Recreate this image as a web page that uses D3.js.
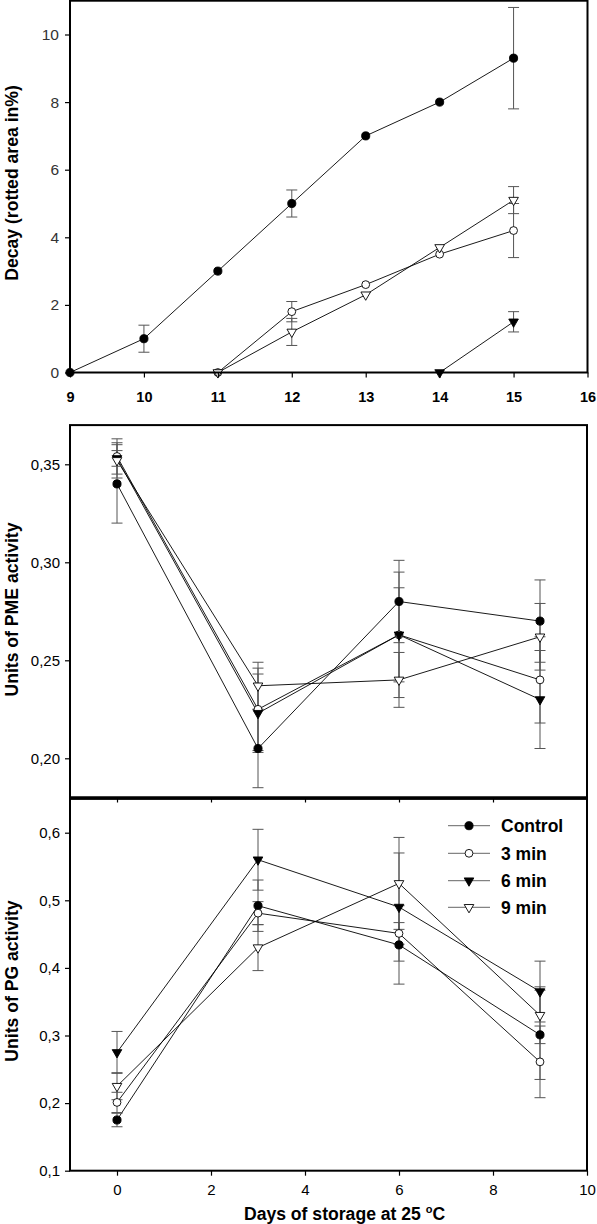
<!DOCTYPE html>
<html><head><meta charset="utf-8">
<script src="https://cdn.jsdelivr.net/npm/d3@7"></script>
<style>body{margin:0;background:#fff}svg{display:block}text{font-family:"Liberation Sans",Arial,sans-serif}</style>
</head><body>
<svg id="c" width="597" height="1224"></svg>
<script>
// ---------- DATA ----------
const seriesNames = ["Control","3 min","6 min","9 min"];
// Panel A: decay (days 9-16)
const decayDays = [9,10,11,12,13,14,15];
const decayControl = [0,1.0,3.0,5.0,7.0,8.0,9.3];
const decay3 = [null,null,0,1.8,2.6,3.5,4.2];
const decay6 = [null,null,null,null,null,0,1.5];
const decay9 = [null,null,0,1.2,2.3,3.7,5.1];
const decayErrControl = [null,0.4,null,0.4,null,null,1.5];
const decayErr3 = [null,null,null,0.3,null,null,0.8];
const decayErr6 = [null,null,null,null,null,null,0.3];
const decayErr9 = [null,null,null,0.4,null,null,0.4];
const decayXTicks = [9,10,11,12,13,14,15,16];
const decayYTicks = [0,2,4,6,8,10];
// Panel B: PME, Panel C: PG (days 0,3,6,9)
const storageDays = [0,3,6,9];
const pmeControl = [0.340,0.205,0.280,0.270];
const pme3 = [0.354,0.225,0.263,0.240];
const pme6 = [0.353,0.223,0.263,0.230];
const pme9 = [0.352,0.237,0.240,0.262];
const pmeErrControl = [0.020,0.020,0.021,0.021];
const pmeErr3 = [0.009,0.021,0.032,0.022];
const pmeErr6 = [0.004,0.020,0.024,0.025];
const pmeErr9 = [0.009,0.012,0.014,0.017];
const pmeYTicks = [0.20,0.25,0.30,0.35];
const pgControl = [0.175,0.492,0.434,0.301];
const pg3 = [0.201,0.481,0.451,0.261];
const pg6 = [0.275,0.560,0.490,0.365];
const pg9 = [0.225,0.430,0.525,0.330];
const pgErrControl = [0.010,0.038,0.058,0.066];
const pgErr3 = [0.015,0.017,0.016,0.053];
const pgErr6 = [0.031,0.045,0.080,0.045];
const pgErr9 = [0.020,0.034,0.068,0.042];
const pgYTicks = [0.1,0.2,0.3,0.4,0.5,0.6];
const storageXTicks = [0,2,4,6,8,10];

// ---------- DRAW ----------
const svg = d3.select("#c");
const fmtComma = d => d3.format(".2f")(d).replace(".",",");
const fmtComma1 = d => d3.format(".1f")(d).replace(".",",");
const symFilled = [true,false,true,false];
const symType = [d3.symbolCircle,d3.symbolCircle,d3.symbolTriangle,d3.symbolTriangle];
const symSize = [52,48,40,40];

function marker(g, i, x, y){
  const p = g.append("path")
    .attr("d", d3.symbol().type(symType[i]).size(symSize[i])())
    .attr("fill", symFilled[i] ? "#000" : "#fff")
    .attr("stroke","#000").attr("stroke-width",0.9);
  p.attr("transform", `translate(${x},${y})` + (i>=2 ? " rotate(180)" : ""));
}

function panel(opt){
  const {x, y, days, series, errs} = opt;
  const g = svg.append("g");
  // lines
  series.forEach((vals)=>{
    const pts = days.map((d,k)=>[d,vals[k]]).filter(p=>p[1]!=null);
    g.append("path").attr("d", d3.line().x(p=>x(p[0])).y(p=>y(p[1]))(pts))
      .attr("fill","none").attr("stroke","#000").attr("stroke-width",0.9);
  });
  // error bars
  series.forEach((vals,i)=>{
    days.forEach((d,k)=>{
      const v = vals[k], e = errs[i][k];
      if(v==null || e==null) return;
      const cx = x(d), y1 = y(v+e), y2 = y(v-e);
      const eg = g.append("g").attr("stroke","#555").attr("stroke-width",1);
      eg.append("line").attr("x1",cx).attr("x2",cx).attr("y1",y1).attr("y2",y2);
      eg.append("line").attr("x1",cx-5.5).attr("x2",cx+5.5).attr("y1",y1).attr("y2",y1);
      eg.append("line").attr("x1",cx-5.5).attr("x2",cx+5.5).attr("y1",y2).attr("y2",y2);
    });
  });
  // markers
  series.forEach((vals,i)=>{
    days.forEach((d,k)=>{ if(vals[k]!=null) marker(g,i,x(d),y(vals[k])); });
  });
}

function box(x,y){
  const [x0,x1] = x.range(); const [y0,y1] = y.range();
  svg.append("rect").attr("x",x0).attr("y",y1).attr("width",x1-x0).attr("height",y0-y1)
    .attr("fill","none").attr("stroke","#000").attr("stroke-width",2);
}

function styleAxis(g){
  g.select(".domain").remove();
  g.selectAll(".tick line").attr("stroke","#000").attr("stroke-width",1.2);
}

// ----- Panel A -----
const xA = d3.scaleLinear().domain([9,16]).range([70,587.5]);
const yA = d3.scaleLinear().domain([0,11]).range([372.5,0.7]);
panel({x:xA,y:yA,days:decayDays,series:[decayControl,decay3,decay6,decay9],
  errs:[decayErrControl,decayErr3,decayErr6,decayErr9]});
svg.append("g").attr("transform","translate(70,0)")
  .call(d3.axisLeft(yA).tickValues(decayYTicks).tickSize(5).tickPadding(6).tickFormat(d3.format("d")))
  .call(styleAxis)
  .call(g=>g.selectAll("text").attr("font-size",15.5).attr("fill","#333").attr("font-family","Liberation Sans, Arial"));
svg.append("g").attr("transform","translate(0,372.5)")
  .call(d3.axisBottom(xA).tickValues(decayXTicks).tickSize(5).tickPadding(14).tickFormat(d3.format("d")))
  .call(styleAxis)
  .call(g=>g.selectAll("text").attr("font-size",14.5).attr("font-weight","bold").attr("fill","#000").attr("font-family","Liberation Sans, Arial"));
box(xA,yA);

// ----- Panel B -----
const xB = d3.scaleLinear().domain([-1,10]).range([70,587]);
const yB = d3.scaleLinear().domain([0.18,0.37]).range([797.5,425.1]);
panel({x:xB,y:yB,days:storageDays,series:[pmeControl,pme3,pme6,pme9],
  errs:[pmeErrControl,pmeErr3,pmeErr6,pmeErr9]});
svg.append("g").attr("transform","translate(70,0)")
  .call(d3.axisLeft(yB).tickValues(pmeYTicks).tickSize(5).tickPadding(5).tickFormat(fmtComma))
  .call(styleAxis)
  .call(g=>g.selectAll("text").attr("font-size",15).attr("fill","#000").attr("font-family","Liberation Sans, Arial"));
svg.append("g").attr("transform","translate(0,797.5)")
  .call(d3.axisBottom(xB).tickValues([0,2,4,6,8]).tickSize(5).tickFormat(""))
  .call(styleAxis);
box(xB,yB);

// ----- Panel C -----
const xC = d3.scaleLinear().domain([-1,10]).range([70,587]);
const yC = d3.scaleLinear().domain([0.1,0.65]).range([1170.7,798.9]);
panel({x:xC,y:yC,days:storageDays,series:[pgControl,pg3,pg6,pg9],
  errs:[pgErrControl,pgErr3,pgErr6,pgErr9]});
svg.append("g").attr("transform","translate(70,0)")
  .call(d3.axisLeft(yC).tickValues(pgYTicks).tickSize(5).tickPadding(5).tickFormat(fmtComma1))
  .call(styleAxis)
  .call(g=>g.selectAll("text").attr("font-size",15).attr("fill","#000").attr("font-family","Liberation Sans, Arial"));
svg.append("g").attr("transform","translate(0,1170.7)")
  .call(d3.axisBottom(xC).tickValues(storageXTicks).tickSize(5).tickPadding(9).tickFormat(d3.format("d")))
  .call(styleAxis)
  .call(g=>g.selectAll("text").attr("font-size",15).attr("fill","#000").attr("font-family","Liberation Sans, Arial"));
box(xC,yC);
// redraw shared border between B and C
svg.append("line").attr("x1",70).attr("x2",587).attr("y1",797.5).attr("y2",797.5).attr("stroke","#000").attr("stroke-width",2.2);

// ----- Legend -----
const legY = [825.7,853.3,880.7,907.3];
const lg = svg.append("g");
seriesNames.forEach((n,i)=>{
  lg.append("line").attr("x1",448).attr("x2",490).attr("y1",legY[i]).attr("y2",legY[i])
    .attr("stroke","#666").attr("stroke-width",1);
  marker(lg,i,469,legY[i]);
  lg.append("text").attr("x",501).attr("y",legY[i]).attr("dy","0.36em")
    .attr("font-size",17.5).attr("font-weight","bold").text(n);
});

// ----- Titles -----
function yTitle(txt, cy){
  svg.append("text").attr("transform",`translate(18,${cy}) rotate(-90)`)
    .attr("text-anchor","middle").attr("font-size",17.6).attr("font-weight","bold").text(txt);
}
yTitle("Decay (rotted area in%)",183);
yTitle("Units of PME activity",609.5);
yTitle("Units of PG activity",981);
const xt = svg.append("text").attr("x",344.6).attr("y",1220).attr("text-anchor","middle")
  .attr("font-size",17.6).attr("font-weight","bold");
xt.append("tspan").text("Days of storage at 25 ");
xt.append("tspan").attr("font-size",11).attr("dy",-7).text("o");
xt.append("tspan").attr("dy",7).text("C");
</script>
</body></html>
